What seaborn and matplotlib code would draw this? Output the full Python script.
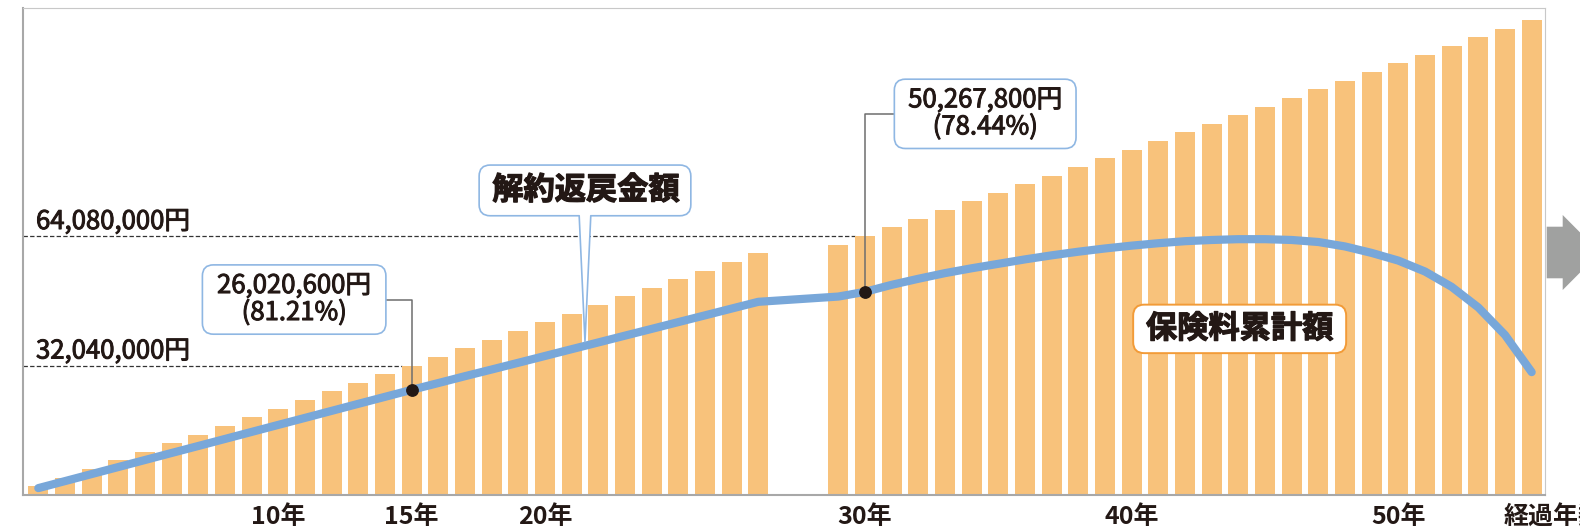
import numpy as np
import pandas as pd
import seaborn as sns
import matplotlib.pyplot as plt
import matplotlib.patheffects as pe
from matplotlib.patches import FancyBboxPatch, Polygon
from matplotlib.transforms import IdentityTransform

sns.set_style('white')
plt.rcParams['font.family'] = ['Noto Sans CJK JP', 'DejaVu Sans']

# 経過年数
years = list(range(1, 56))

# 保険料累計額（万円）
premium_total = [213.6, 427.2, 640.8, 854.4, 1068.0, 1281.6, 1495.2, 1708.8, 1922.4, 2136.0,
                 2349.6, 2563.2, 2776.8, 2990.4, 3204.0, 3417.6, 3631.2, 3844.8, 4058.4, 4272.0,
                 4485.6, 4699.2, 4912.8, 5126.4, 5340.0, 5553.6, 5767.2, 5980.8, 6194.4, 6408.0,
                 6621.6, 6835.2, 7048.8, 7262.4, 7476.0, 7689.6, 7903.2, 8116.8, 8330.4, 8544.0,
                 8757.6, 8971.2, 9184.8, 9398.4, 9612.0, 9825.6, 10039.2, 10252.8, 10466.4, 10680.0,
                 10893.6, 11107.2, 11320.8, 11534.4, 11748.0]

# 解約返戻金額（万円）
refund = [170, 344, 518, 692, 866, 1040, 1213, 1387, 1561, 1735,
          1908, 2082, 2256, 2429, 2602.06, 2770, 2940, 3105, 3272, 3440,
          3608, 3775, 3943, 4110, 4278, 4445, 4613, 4780, 4910, 5026.78,
          5200, 5350, 5490, 5610, 5720, 5830, 5930, 6020, 6100, 6170,
          6230, 6280, 6310, 6330, 6330, 6310, 6260, 6150, 5990, 5800,
          5530, 5150, 4640, 3960, 3040]

x_label_years = [10, 15, 20, 30, 40, 50]
x_labels = ['10年', '15年', '20年', '30年', '40年', '50年']
axis_title = '経過年数'
refund_title = '解約返戻金額'
premium_title = '保険料累計額'
callout_years = [15, 30]
callout_texts = ['26,020,600円\n(81.21%)', '50,267,800円\n(78.44%)']
ref_texts = ['32,040,000円', '64,080,000円']

BAR = '#F8C27B'
LINE = '#78A7D9'
BOX_BLUE = '#8FB7E3'
BOX_ORANGE = '#F29B38'
INK = '#231815'
ID = IdentityTransform()
thick = [pe.withStroke(linewidth=0.7, foreground=INK)]
heavy = [pe.withStroke(linewidth=0.9, foreground=INK)]


def slot(y):
    # 28年と29年の間は2本分あける
    return y - 1 if y <= 28 else y + 1


df = pd.DataFrame({'year': years, 'premium': premium_total, 'refund': refund})
df['slot'] = df['year'].map(slot)

fig = plt.figure(figsize=(15.8, 5.28), dpi=100)
ax = fig.add_axes([23 / 1580, 33 / 528, 1522 / 1580, 487 / 528])

sns.barplot(data=df, x='slot', y='premium', native_scale=True, width=0.75, color=BAR,
            saturation=1, linewidth=0, ax=ax, zorder=2)
sns.lineplot(data=df, x='slot', y='refund', color=LINE, lw=5.9, errorbar=None,
             solid_capstyle='round', solid_joinstyle='round', ax=ax, zorder=4)

x0, x1 = -0.574, 56.5
ax.set_xlim(x0, x1)
ax.set_ylim(0, 12050)
ax.set_xlabel('')
ax.set_ylabel('')
ax.set_yticks([])

# 目盛り
ax.set_xticks([slot(y) for y in x_label_years], x_labels)
minor = sorted(set(s + d for s in df['slot'] for d in (-0.5, 0.5)))
ax.set_xticks(minor, minor=True)
ax.tick_params(axis='x', which='major', length=0, pad=7.5, labelsize=18, labelcolor=INK)
ax.tick_params(axis='x', which='minor', direction='in', length=5, width=0.8, color='#BBBBBB')
for lbl in ax.get_xticklabels():
    lbl.set_fontweight('bold')
ax.annotate(axis_title, xy=(54.96, 0), xycoords=('data', 'axes fraction'),
            xytext=(0, -7.5), textcoords='offset points', ha='left', va='top',
            fontsize=18, fontweight='bold', color=INK, annotation_clip=False)

for side in ['top', 'right']:
    ax.spines[side].set_color('#C8C8C8')
    ax.spines[side].set_linewidth(0.8)
for side in ['left', 'bottom']:
    ax.spines[side].set_color('#A8A8A8')
    ax.spines[side].set_linewidth(1.5)

# 点線と金額
for yr, txt in zip(callout_years, ref_texts):
    v = df.loc[df.year == yr, 'premium'].iloc[0]
    ax.plot([x0, slot(yr) - 0.375], [v, v], color='#333333', lw=0.9,
            ls=(0, (3.5, 1.8)), zorder=1.5)
    ax.annotate(txt, xy=(x0, v), xytext=(13, 7), textcoords='offset pixels',
                fontsize=18.5, color=INK, va='baseline', ha='left', path_effects=thick)


def box(cx, cy, w, h, edge, lw=1.2):
    ax.add_patch(FancyBboxPatch((cx - w / 2, cy - h / 2), w, h,
                                boxstyle='round,pad=0,rounding_size=11', transform=ID,
                                fc='white', ec=edge, lw=lw, zorder=6, clip_on=False))


# 吹き出し（解約返戻金額の値）
offsets = [(-117.5, 90.3, 183.5), (120.2, 178.0, 181.7)]
for yr, txt, (dx, dy, w) in zip(callout_years, callout_texts, offsets):
    v = df.loc[df.year == yr, 'refund'].iloc[0]
    px, py = ax.transData.transform((slot(yr), v))
    cx, cy = px + dx, py + dy
    box(cx, cy, w, 69.3, BOX_BLUE)
    edge_x = cx + w / 2 if dx < 0 else cx - w / 2
    ax.plot([edge_x, px, px], [cy, cy, py], color='#6E6E6E', lw=1.1, transform=ID,
            clip_on=False, zorder=5)
    ax.text(cx, cy, txt, transform=ID, ha='center', va='center', fontsize=18.5,
            color=INK, linespacing=1.05, zorder=8, path_effects=thick)
    ax.plot(slot(yr), v, 'o', ms=8.2, color=INK, zorder=7)

# 解約返戻金額ラベル
tip_slot = 20.5
tip_v = np.interp(tip_slot, df['slot'], df['refund'])
tx, ty = ax.transData.transform((tip_slot, tip_v))
ty += 4
bcx, bcy, bw, bh = tx, ty + 151.4, 211.7, 50.7
box(bcx, bcy, bw, bh, BOX_BLUE)
bb = bcy - bh / 2
ax.add_patch(Polygon([(tx - 5.8, bb + 2), (tx, ty), (tx + 5.8, bb + 2)], closed=True,
                     fc='white', ec='none', transform=ID, clip_on=False, zorder=6.5))
ax.plot([tx - 5.8, tx, tx + 5.8], [bb, ty, bb], color=BOX_BLUE, lw=1.2, transform=ID,
        clip_on=False, zorder=6.6)
ax.text(bcx + 1, bcy, refund_title, transform=ID, ha='center', va='center',
        fontsize=22.5, fontweight='bold', color=INK, zorder=8, path_effects=heavy)

# 保険料累計額ラベル
pcx, pcy = ax.transData.transform((45.05, 4110))
box(pcx, pcy, 213, 48.5, BOX_ORANGE, lw=1.4)
ax.text(pcx, pcy, premium_title, transform=ID, ha='center', va='center',
        fontsize=22.5, fontweight='bold', color=INK, zorder=8, path_effects=heavy)

# 右端の矢印
arrow = [(1546.7, 301.3), (1562.7, 301.3), (1562.7, 313), (1600, 275.5),
         (1562.7, 238), (1562.7, 249.7), (1546.7, 249.7)]
fig.add_artist(Polygon(arrow, closed=True, fc='#A0A1A0', ec='none', transform=ID))

ax.set_xlim(x0, x1)
ax.set_ylim(0, 12050)
fig.savefig('out.png', dpi=100)
